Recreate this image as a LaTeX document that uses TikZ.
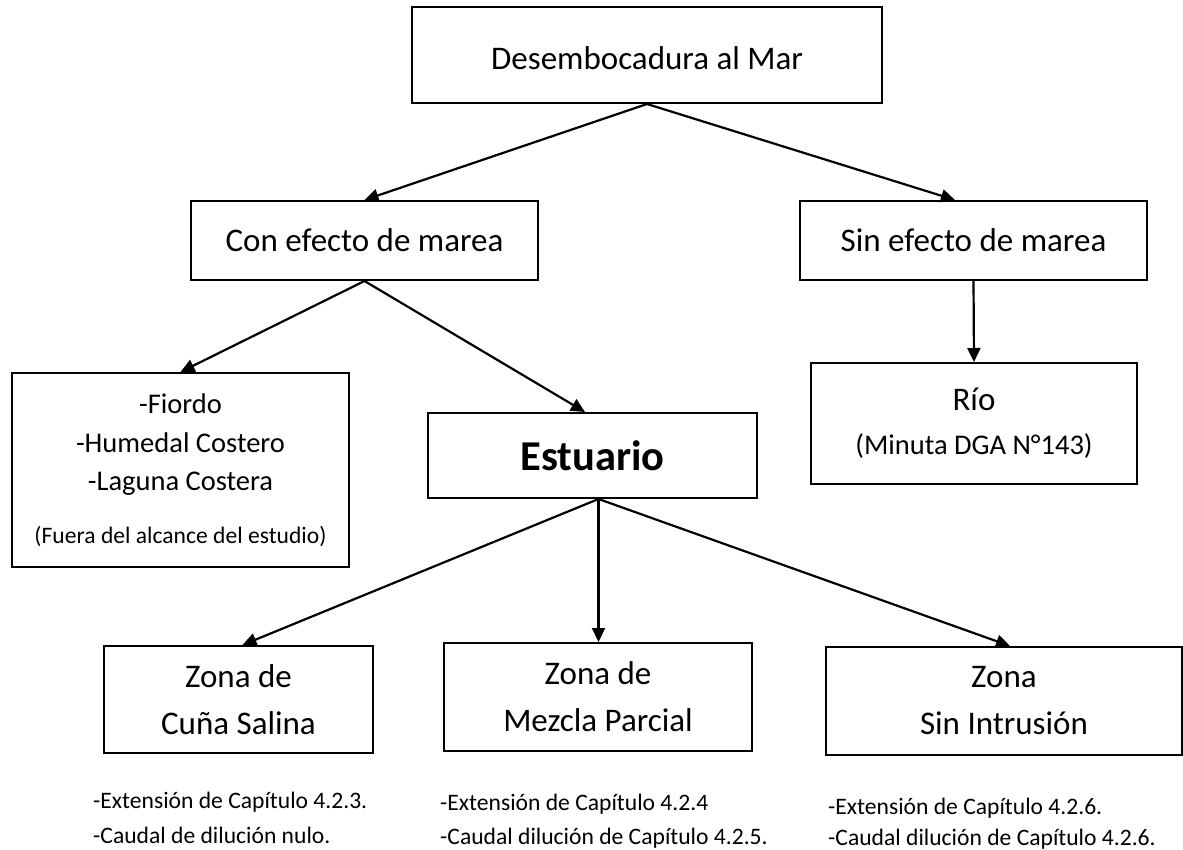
\documentclass[tikz,border=0pt]{standalone}
\usepackage{fontspec}
\setmainfont{Carlito}
\usetikzlibrary{arrows.meta}
\newcommand\fbig{\fontsize{33}{47}\selectfont}
\newcommand\fmed{\fontsize{28.5}{38.5}\selectfont}
\newcommand\fsmall{\fontsize{23.6}{35}\selectfont}
\newcommand\fbold{\fontsize{42.5}{50}\selectfont\bfseries}
\begin{document}
\begin{tikzpicture}[x=1pt,y=-1pt,
  box/.style={draw=black,line width=2pt,inner sep=0pt,align=center,anchor=center},
  arr/.style={line width=2.2pt,-{Triangle[length=14pt,width=13pt]}},
  note/.style={anchor=base west,inner sep=0pt,font=\fsmall}]
\path[use as bounding box] (0,0) rectangle (1183,850);
\node[box,minimum width=470pt,minimum height=96pt,font=\fbig,text depth=0pt] (top) at (647,55) {\raisebox{-6pt}{Desembocadura al Mar}};
\node[box,minimum width=347pt,minimum height=79pt,font=\fbig] (con) at (364.5,240.5) {Con efecto de marea};
\node[box,minimum width=347pt,minimum height=79pt,font=\fbig] (sin) at (973.5,240.5) {Sin efecto de marea};
\node[box,minimum width=337pt,minimum height=194pt,font=\fmed] (fio) at (180.5,470)
  {-Fiordo\\-Humedal Costero\\-Laguna Costera\\[14pt]{\fsmall (Fuera del alcance del estudio)}};
\node[box,minimum width=326pt,minimum height=121pt,font=\fbig] (rio) at (974,423.5)
  {Río\\[-3pt]{\fmed (Minuta DGA N°143)}};
\node[box,minimum width=329pt,minimum height=85pt,font=\fbold] (est) at (592.5,455.5) {Estuario};
\node[box,minimum width=269pt,minimum height=107pt,font=\fbig] (cun) at (238.5,699.5) {Zona de\\Cuña Salina};
\node[box,minimum width=308pt,minimum height=108pt,font=\fbig] (mez) at (598,697) {Zona de\\Mezcla Parcial};
\node[box,minimum width=356pt,minimum height=108pt,font=\fbig] (sii) at (1004,701) {Zona\\Sin Intrusión};
\coordinate (ea) at ([xshift=6pt]est.south);
\draw[arr] (top.south) -- (con.north);
\draw[arr] (top.south) -- ([xshift=-18.5pt]sin.north);
\draw[arr] (con.south) -- (fio.north);
\draw[arr] (con.south) -- ([xshift=-7.5pt]est.north);
\draw[arr] (sin.south) -- (rio.north);
\draw[arr] (ea) -- ([xshift=4pt]cun.north);
\draw[arr] (ea) -- (ea |- mez.north);
\draw[arr] (ea) -- ([xshift=6pt]sii.north);
\node[note] (c1) at (93,808) {-Extensión de Capítulo 4.2.3.};
\node[note] (c2) at (93,843) {-Caudal de dilución nulo.};
\node[note] (m1) at (440,810) {-Extensión de Capítulo 4.2.4};
\node[note] (m2) at (440,844) {-Caudal dilución de Capítulo 4.2.5.};
\node[note] (s1) at (828,814) {-Extensión de Capítulo 4.2.6.};
\node[note] (s2) at (828,845) {-Caudal dilución de Capítulo 4.2.6.};
\end{tikzpicture}
\end{document}
